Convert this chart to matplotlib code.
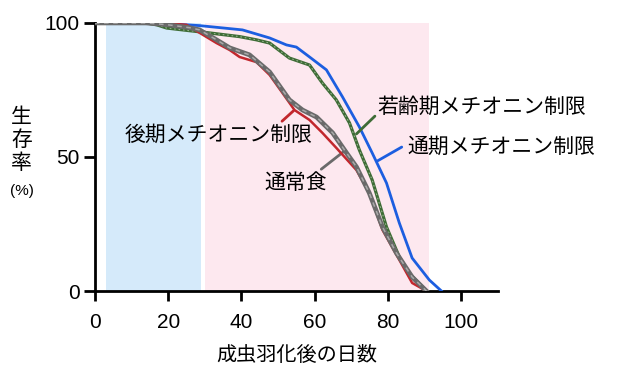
# %% pacotes
import matplotlib
matplotlib.use('Agg')
import matplotlib.pyplot as plt

plt.rcParams['font.family'] = ['Liberation Sans', 'Noto Sans CJK JP', 'DejaVu Sans']
jp = ['Noto Sans CJK JP', 'DejaVu Sans']

# %% dados (leitura aproximada da figura)
dias_通期 = [0, 17, 28.6, 40.3, 47.7, 52.3, 55, 58.6, 63.2, 67.6, 72.2, 75.7, 79.6, 83.1, 86.6, 91.3, 94.6]
surv_通期 = [100, 100, 99.0, 97.4, 94.4, 91.8, 91, 87.3, 82.5, 72.4, 61.2, 51.5, 40.3, 25.4, 12.3, 4.1, 0]

dias_若齢 = [0, 14, 16.9, 19.6, 25.9, 30.5, 39.5, 44.1, 47.7, 53.1, 58.6, 62.1, 65.9, 69.5, 72.2, 75.7, 79.6, 83.1, 85.8, 90.5]
surv_若齢 = [100, 100, 99.3, 98.1, 97.1, 96.4, 94.9, 93.7, 92.5, 86.9, 84.3, 77.6, 71.3, 62.7, 52.6, 41.4, 23.9, 12.7, 6.7, 0]

dias_後期 = [0, 18, 25, 28.6, 33.2, 36.8, 39.5, 44.1, 47.7, 51.2, 54.5, 58.6, 62.1, 65.9, 71.4, 74.9, 78.5, 83.1, 86.6, 90.5]
surv_後期 = [100, 100, 99.3, 96.3, 92.5, 89.9, 87.3, 85.4, 80.6, 73.9, 67.5, 63.8, 59.0, 53.4, 45.1, 36.6, 22.8, 11.6, 3.0, 0]

dias_通常 = [0, 14, 20, 26, 28.6, 33.2, 36.8, 42.2, 47.7, 53.1, 56.7, 60.5, 64.9, 68.7, 71.4, 74.9, 78.5, 82.3, 86.6, 90.5]
surv_通常 = [100, 100, 99.3, 98.2, 97.4, 93.7, 90.7, 88.1, 81.7, 71.3, 67.5, 64.9, 59.0, 51.5, 46.3, 36.6, 23.9, 14.2, 5.2, 0]

periodo_jovem = (3, 29)
periodo_tardio = (30, 91.3)

# %% figura
fig = plt.figure(figsize=(6.2, 3.7), dpi=100)
ax = fig.add_axes([0.153, 0.2135, 0.65, 0.7245])

ax.axvspan(*periodo_jovem, ymax=1, color='#d5eafa', lw=0, zorder=0)
ax.axvspan(*periodo_tardio, ymax=1, color='#fde8ef', lw=0, zorder=0)

ax.plot(dias_通期, surv_通期, color='#1c5ee0', lw=2, zorder=3)
ax.plot(dias_若齢, surv_若齢, color='#3e6c36', lw=2.3, zorder=4)
ax.plot(dias_若齢, surv_若齢, color='#93b08a', lw=0.8, dashes=(1.5, 2.5), zorder=4)
ax.plot(dias_後期, surv_後期, color='#c2272d', lw=1.8, zorder=5)
ax.plot(dias_通常, surv_通常, color='#6a6a6a', lw=3.4, zorder=6)
ax.plot(dias_通常, surv_通常, color='#a9a9a9', lw=1.1, dashes=(3, 3), zorder=6)

# %% rótulos das curvas
tam = 15
ax.annotate('後期メチオニン制限', xy=(54.2, 67.2), xytext=(8.2, 58.2), family=jp, fontsize=tam,
            va='center', ha='left',
            arrowprops=dict(arrowstyle='-', color='#c2272d', lw=2, shrinkA=0, shrinkB=0,
                            relpos=(0.82, 1.0)))
ax.annotate('若齢期メチオニン制限', xy=(71.4, 58.6), xytext=(77.2, 68.7), family=jp, fontsize=tam,
            va='center', ha='left',
            arrowprops=dict(arrowstyle='-', color='#3e6c36', lw=2, shrinkA=0, shrinkB=0,
                            relpos=(0.0, 0.2)))
ax.annotate('通期メチオニン制限', xy=(77.1, 48.5), xytext=(85.3, 53.7), family=jp, fontsize=tam,
            va='center', ha='left',
            arrowprops=dict(arrowstyle='-', color='#1c5ee0', lw=2, shrinkA=0, shrinkB=0,
                            relpos=(-0.03, 0.5)))
ax.annotate('通常食', xy=(68.1, 52.2), xytext=(46.3, 40.3), family=jp, fontsize=tam,
            va='center', ha='left',
            arrowprops=dict(arrowstyle='-', color='#6a6a6a', lw=2, shrinkA=0, shrinkB=0,
                            relpos=(0.85, 1.0)))

# %% eixos
ax.set_xlim(0, 110)
ax.set_ylim(0, 100)
ax.set_xticks([0, 20, 40, 60, 80, 100])
ax.set_yticks([0, 50, 100])
for s in ['top', 'right']:
    ax.spines[s].set_visible(False)
for s in ['left', 'bottom']:
    ax.spines[s].set_linewidth(2)
ax.tick_params(axis='both', direction='out', width=2, labelsize=15)
ax.tick_params(axis='y', length=8, pad=3)
ax.tick_params(axis='x', length=7, pad=9)

ax.set_xlabel('成虫羽化後の日数', family=jp, fontsize=14.5, labelpad=9)

# rótulo vertical do eixo y
for letra, py in zip(['生', '存', '率'], [117, 140, 163]):
    fig.text(0.035, 1 - py / 370, letra, family=jp, fontsize=15, ha='center', va='center')
fig.text(0.035, 1 - 191 / 370, '(%)', fontsize=11, ha='center', va='center')

fig.savefig('out.png', dpi=100)
